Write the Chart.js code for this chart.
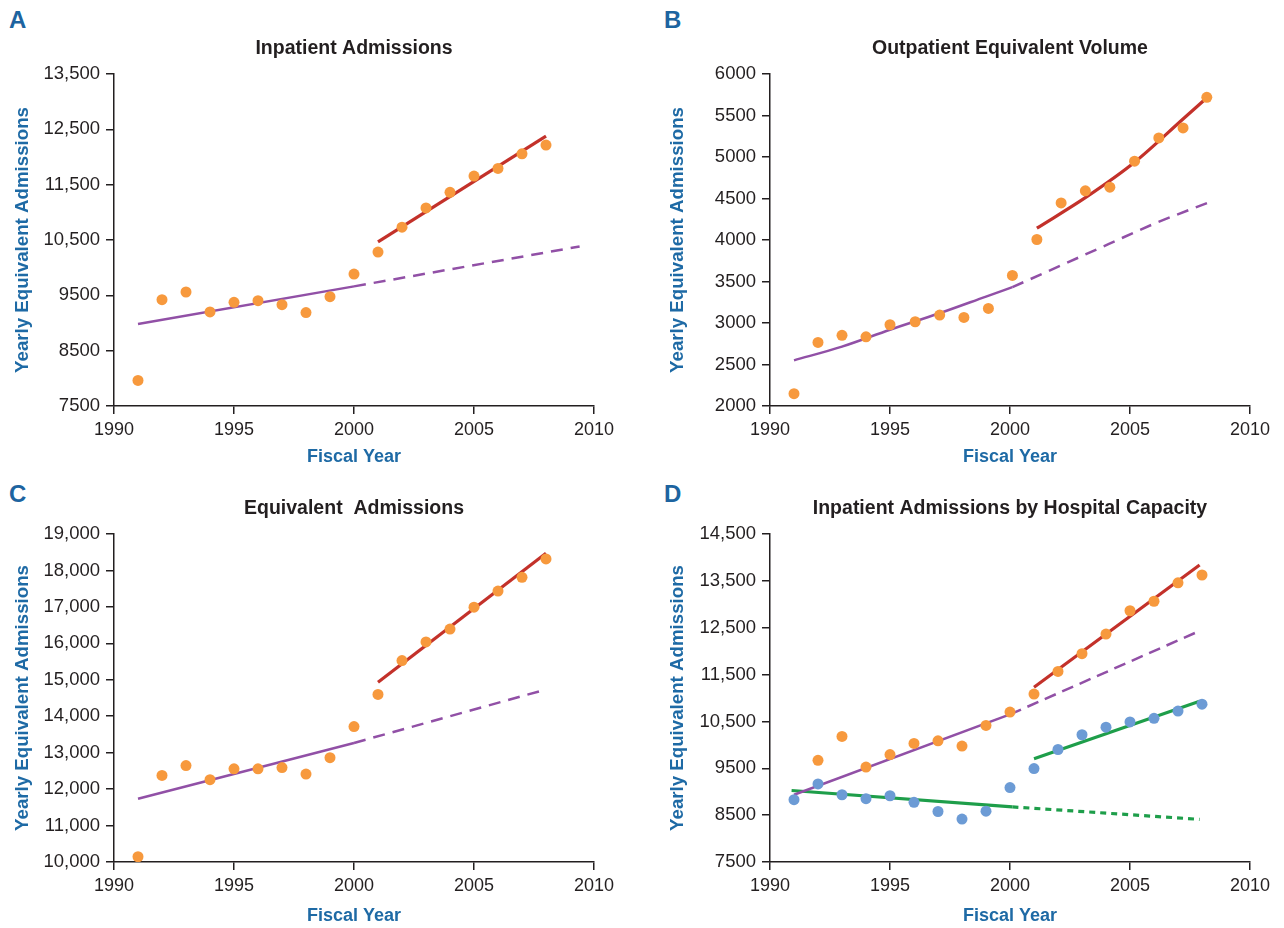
<!DOCTYPE html>
<html lang="en">
<head>
<meta charset="UTF-8">
<title>Admissions trends</title>
<script src="https://cdn.jsdelivr.net/npm/chart.js"></script>
<style>
    body { margin: 0; background: #fff; }
    .page { position: relative; width: 1284px; height: 928px; background: #fff; }
    .page canvas { position: absolute; }
    .letter { position: absolute; font-family: "Liberation Sans", Arial, sans-serif; font-weight: bold; font-size: 24px; line-height: 24px; color: #1D64A0; }
</style>
</head>
<body>
<div class="page">
    <div class="letter" style="left:9px; top:8px;">A</div>
    <div class="letter" style="left:664px; top:8px;">B</div>
    <div class="letter" style="left:9px; top:482px;">C</div>
    <div class="letter" style="left:664px; top:482px;">D</div>
    <canvas id="chartA" width="642" height="470" style="left:0; top:0;"></canvas>
    <canvas id="chartB" width="642" height="470" style="left:642px; top:0;"></canvas>
    <canvas id="chartC" width="642" height="458" style="left:0; top:470px;"></canvas>
    <canvas id="chartD" width="642" height="458" style="left:642px; top:470px;"></canvas>
</div>
<script>
// ---- data ----
const years = [1991, 1992, 1993, 1994, 1995, 1996, 1997, 1998, 1999, 2000, 2001, 2002, 2003, 2004, 2005, 2006, 2007, 2008];
const xTicks = [1990, 1995, 2000, 2005, 2010];

// A: inpatient admissions
const aYTicks = [7500, 8500, 9500, 10500, 11500, 12500, 13500];
const aInpatient = [7962, 9422, 9560, 9200, 9374, 9404, 9332, 9188, 9476, 9884, 10281, 10731, 11080, 11362, 11656, 11794, 12058, 12215];
const aFitYears = [1991, 2000];
const aFitValues = [8983, 9662];
const aProjYears = [2000, 2009.4];
const aProjValues = [9662, 10383];
const aPostYears = [2001, 2008];
const aPostValues = [10467, 12377];

// B: outpatient equivalent volume
const bYTicks = [2000, 2500, 3000, 3500, 4000, 4500, 5000, 5500, 6000];
const bYears = [1991, 1992, 1993, 1994, 1995, 1996.05, 1997.07, 1998.08, 1999.1, 2000.1, 2001.12, 2002.13, 2003.14, 2004.16, 2005.19, 2006.2, 2007.21, 2008.2];
const bOutpatient = [2148, 2766, 2851, 2834, 2979, 3015, 3095, 3067, 3176, 3573, 4006, 4447, 4592, 4636, 4949, 5230, 5350, 5719];
const bFitYears = [1991, 1993, 1995, 1997, 1999, 2000.1];
const bFitValues = [2550, 2715, 2919, 3111, 3318, 3432];
const bProjYears = [2000.1, 2002.1, 2004.1, 2006, 2008.3];
const bProjValues = [3432, 3690, 3950, 4195, 4455];
const bPostYears = [2001.12, 2003.17, 2005.19, 2007.21, 2008.19];
const bPostValues = [4142, 4516, 4937, 5458, 5711];

// C: equivalent admissions
const cYTicks = [10000, 11000, 12000, 13000, 14000, 15000, 16000, 17000, 18000, 19000];
const cEquivalent = [10144, 12376, 12646, 12259, 12556, 12556, 12592, 12412, 12862, 13717, 14599, 15526, 16039, 16390, 16993, 17434, 17812, 18316];
const cFitYears = [1991, 2000];
const cFitValues = [11737, 13267];
const cProjYears = [2000, 2008];
const cProjValues = [13267, 14734];
const cPostYears = [2001, 2008];
const cPostValues = [14932, 18469];

// D: inpatient admissions by hospital capacity
const dYTicks = [7500, 8500, 9500, 10500, 11500, 12500, 13500, 14500];
const dOrangeYears = years.slice(1);
const dOrange = [9670, 10181, 9526, 9792, 10030, 10086, 9974, 10415, 10699, 11084, 11567, 11945, 12365, 12862, 13065, 13457, 13625];
const dBlue = [8830, 9166, 8935, 8851, 8914, 8774, 8578, 8417, 8585, 9089, 9495, 9901, 10216, 10377, 10489, 10566, 10720, 10867];
const dOrangeFitYears = [1991, 2000];
const dOrangeFitValues = [8935, 10650];
const dOrangeProjYears = [2000, 2007.85];
const dOrangeProjValues = [10650, 12420];
const dOrangePostYears = [2001, 2007.9];
const dOrangePostValues = [11231, 13838];
const dBlueFitYears = [1990.9, 2000.1];
const dBlueFitValues = [9026, 8676];
const dBlueProjYears = [2000.1, 2007.9];
const dBlueProjValues = [8676, 8410];
const dBluePostYears = [2001, 2007.9];
const dBluePostValues = [9705, 10930];

// ---- styles ----
const ORANGE = '#F7993D';
const BLUE = '#6C9BD5';
const PURPLE = '#9150A6';
const RED = '#C3312A';
const GREEN = '#1E9E4A';
const INK = '#231F20';
const TITLE_BLUE = '#1E6AA5';

Chart.defaults.font.family = '"Liberation Sans", Arial, sans-serif';

const pts = (xs, ys) => xs.map((x, i) => ({ x: x, y: ys[i] }));

function dots(xs, ys, color) {
    return { data: pts(xs, ys), showLine: false, pointRadius: 5.5, pointHoverRadius: 5.5,
             pointBackgroundColor: color, pointBorderWidth: 0, order: 0 };
}

function line(xs, ys, color, width, dash, curved) {
    return { data: pts(xs, ys), showLine: true, pointRadius: 0, pointHoverRadius: 0,
             borderColor: color, borderWidth: width, borderDash: dash || [],
             cubicInterpolationMode: curved ? 'monotone' : 'default', fill: false, order: 1 };
}

function fmt(v) {
    return v >= 10000 ? v.toLocaleString('en-US') : String(v);
}

function panel(id, o) {
    new Chart(document.getElementById(id), {
        type: 'scatter',
        data: { datasets: o.datasets },
        options: {
            responsive: false,
            animation: false,
            events: [],
            layout: { padding: { left: 0, right: o.padRight, top: 0, bottom: 0 } },
            plugins: {
                legend: { display: false },
                tooltip: { enabled: false },
                title: {
                    display: true, text: o.title, fullSize: false, color: INK,
                    font: { size: 19.5, weight: 'bold' },
                    padding: { top: o.titleTop, bottom: 13.3 }
                }
            },
            scales: {
                x: {
                    type: 'linear', min: 1990, max: 2010,
                    afterBuildTicks: s => { s.ticks = xTicks.map(v => ({ value: v })); },
                    afterFit: s => { s.height = o.xHeight; },
                    ticks: { color: INK, font: { size: 18 }, padding: 5, callback: v => String(v) },
                    grid: { drawOnChartArea: false, drawTicks: true, tickLength: 8, tickColor: INK, lineWidth: 1.5 },
                    border: { display: true, color: INK, width: 1.5 },
                    title: { display: true, text: 'Fiscal Year', color: TITLE_BLUE,
                             font: { size: 18, weight: 'bold' }, padding: { top: 0, bottom: o.xTitlePad } }
                },
                y: {
                    type: 'linear', min: o.yTicks[0], max: o.yTicks[o.yTicks.length - 1],
                    afterBuildTicks: s => { s.ticks = o.yTicks.map(v => ({ value: v })); },
                    afterFit: s => { s.width = o.yWidth; },
                    ticks: { color: INK, font: { size: 18.5 }, padding: 6, callback: v => fmt(v) },
                    grid: { drawOnChartArea: false, drawTicks: true, tickLength: 8, tickColor: INK, lineWidth: 1.5 },
                    border: { display: true, color: INK, width: 1.5 },
                    title: { display: true, text: 'Yearly Equivalent Admissions', color: TITLE_BLUE,
                             font: { size: 18.7, weight: 'bold' }, padding: { top: o.yTitlePad, bottom: 0 } }
                }
            }
        }
    });
}

panel('chartA', {
    title: 'Inpatient Admissions', yTicks: aYTicks,
    padRight: 48, yWidth: 114, xHeight: 64, titleTop: 37.3, yTitlePad: 11.8, xTitlePad: 2.2,
    datasets: [
        dots(years, aInpatient, ORANGE),
        line(aFitYears, aFitValues, PURPLE, 2.5),
        line(aProjYears, aProjValues, PURPLE, 2.5, [12, 8]),
        line(aPostYears, aPostValues, RED, 3.2)
    ]
});

panel('chartB', {
    title: 'Outpatient Equivalent Volume', yTicks: bYTicks,
    padRight: 34, yWidth: 128, xHeight: 64, titleTop: 37.3, yTitlePad: 24.3, xTitlePad: 2.2,
    datasets: [
        dots(bYears, bOutpatient, ORANGE),
        line(bFitYears, bFitValues, PURPLE, 2.5, null, true),
        line(bProjYears, bProjValues, PURPLE, 2.5, [12, 8], true),
        line(bPostYears, bPostValues, RED, 3.2, null, true)
    ]
});

panel('chartC', {
    title: 'Equivalent  Admissions', yTicks: cYTicks,
    padRight: 48, yWidth: 114, xHeight: 66, titleTop: 27.3, yTitlePad: 11.8, xTitlePad: 1.2,
    datasets: [
        dots(years, cEquivalent, ORANGE),
        line(cFitYears, cFitValues, PURPLE, 2.5),
        line(cProjYears, cProjValues, PURPLE, 2.5, [12, 8]),
        line(cPostYears, cPostValues, RED, 3.2)
    ]
});

panel('chartD', {
    title: 'Inpatient Admissions by Hospital Capacity', yTicks: dYTicks,
    padRight: 34, yWidth: 128, xHeight: 66, titleTop: 27.3, yTitlePad: 24.3, xTitlePad: 1.2,
    datasets: [
        dots(dOrangeYears, dOrange, ORANGE),
        dots(years, dBlue, BLUE),
        line(dOrangeFitYears, dOrangeFitValues, PURPLE, 2.5),
        line(dOrangeProjYears, dOrangeProjValues, PURPLE, 2.5, [12, 7]),
        line(dOrangePostYears, dOrangePostValues, RED, 3.2),
        line(dBlueFitYears, dBlueFitValues, GREEN, 3.2),
        line(dBlueProjYears, dBlueProjValues, GREEN, 3.2, [6, 5]),
        line(dBluePostYears, dBluePostValues, GREEN, 3.2)
    ]
});
</script>
</body>
</html>
